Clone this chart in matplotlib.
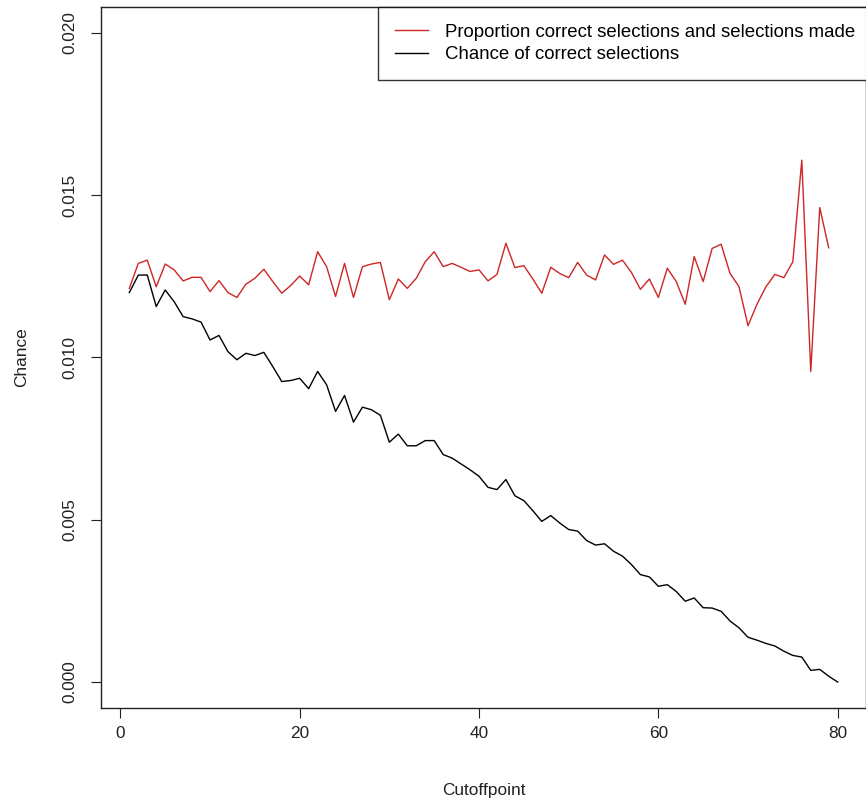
import numpy as np
import matplotlib.pyplot as plt

plt.rcParams['font.family'] = ['Liberation Sans', 'DejaVu Sans']

# values
cutoff_red = np.arange(1, 80)
prop_correct = [0.01213, 0.0129, 0.0130, 0.01218, 0.01288, 0.0127, 0.01236, 0.01247, 0.01247, 0.01203,
                0.01237, 0.0120, 0.01185, 0.01226, 0.01244, 0.01272, 0.01234, 0.01198, 0.01222, 0.01251,
                0.01224, 0.01326, 0.0128, 0.01188, 0.0129, 0.01185, 0.0128, 0.01288, 0.01293, 0.01178,
                0.01242, 0.01213, 0.01244, 0.01295, 0.01326, 0.0128, 0.0129, 0.01278, 0.01265, 0.0127,
                0.01236, 0.01256, 0.01352, 0.01277, 0.01283, 0.01242, 0.01198, 0.01278, 0.01259, 0.01246,
                0.01293, 0.01254, 0.01239, 0.01316, 0.01287, 0.0130, 0.01262, 0.0121, 0.01242, 0.01185,
                0.01275, 0.01234, 0.01164, 0.01311, 0.01234, 0.01336, 0.01349, 0.01259, 0.01218, 0.01098,
                0.01164, 0.01218, 0.01256, 0.01246, 0.01295, 0.01608, 0.00957, 0.01462, 0.01338]

cutoff_black = np.arange(1, 81)
chance_correct = [0.0120, 0.01254, 0.01254, 0.01157, 0.01208, 0.01172, 0.01126, 0.01119, 0.01109, 0.01054,
                  0.01068, 0.01018, 0.00993, 0.01013, 0.01006, 0.01016, 0.00972, 0.00926, 0.00929, 0.00936,
                  0.00904, 0.00957, 0.00916, 0.00834, 0.00883, 0.00801, 0.00847, 0.00839, 0.00822, 0.00739,
                  0.00764, 0.00728, 0.00728, 0.00744, 0.00744, 0.00701, 0.0069, 0.00672, 0.00654, 0.00634,
                  0.006, 0.00593, 0.00624, 0.00574, 0.00559, 0.00528, 0.00495, 0.00513, 0.0049, 0.0047,
                  0.00465, 0.00436, 0.00422, 0.00426, 0.00403, 0.00388, 0.00362, 0.00331, 0.00324, 0.00295,
                  0.003, 0.00279, 0.00249, 0.00259, 0.00229, 0.00228, 0.00218, 0.00188, 0.00167, 0.00138,
                  0.00129, 0.00119, 0.00111, 0.00095, 0.00082, 0.00077, 0.00036, 0.00039, 0.00018, 0.0]

fig = plt.figure(figsize=(8.66, 8.05), dpi=100)
ax = fig.add_axes([101/866, 1 - 708/805, 1 - 101/866, 701/805])

line1, = ax.plot(cutoff_red, prop_correct, color='#cd2626', lw=1.0)
line2, = ax.plot(cutoff_black, chance_correct, color='black', lw=1.0)

ax.set_xlim(1 - 0.04*79, 80 + 0.04*79)
ax.set_ylim(-0.0008, 0.0208)
ax.set_xticks([0, 20, 40, 60, 80])
ax.set_yticks([0.0, 0.005, 0.010, 0.015, 0.020])
ax.set_yticklabels(['0.000', '0.005', '0.010', '0.015', '0.020'], rotation=90, va='center')
ax.tick_params(direction='out', length=7, width=0.8, labelsize=12.4, colors='#222222')
ax.tick_params(axis='x', pad=6)
ax.tick_params(axis='y', pad=10)
for s in ax.spines.values():
    s.set_linewidth(1.0)
    s.set_color('#222222')

ax.set_xlabel('Cutoffpoint', fontsize=12.4, labelpad=30, color='#222222')
ax.set_ylabel('Chance', fontsize=12.4, labelpad=24, color='#222222')

leg = ax.legend([line1, line2], ['Proportion correct selections and selections made', 'Chance of correct selections'],
                loc='upper left', bbox_to_anchor=(0.362, 1.0), fontsize=13.4, frameon=True, fancybox=False,
                borderaxespad=0, handlelength=1.8, handletextpad=0.9, borderpad=0.9, labelspacing=0.3)
leg.get_frame().set_edgecolor('black')
leg.get_frame().set_linewidth(1.0)

fig.savefig('out.png', dpi=100)
